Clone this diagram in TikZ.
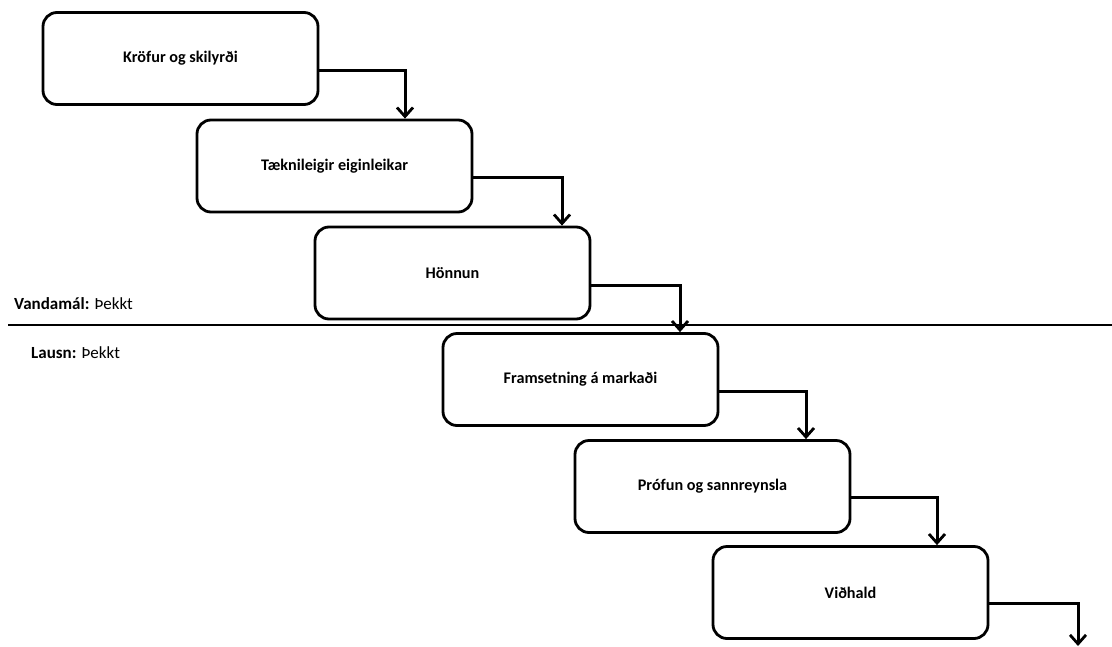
\documentclass[tikz,border=0pt]{standalone}
\usepackage{fontspec}
\setmainfont{Carlito}
\usetikzlibrary{arrows.meta}
\tikzset{
  stage/.style={draw=black, line width=2.8pt, rounded corners=14pt, minimum width=275pt, minimum height=92pt, inner sep=0pt, font=\fontsize{16.2}{18}\selectfont\bfseries},
  flow/.style={line width=3pt, -{Straight Barb[length=9pt,width=16pt,line width=2.8pt]}},
  sep/.style={line width=2.8pt},
  lbl/.style={anchor=west, inner sep=0pt, font=\fontsize{17}{19}\selectfont}
}
\begin{document}
\begin{tikzpicture}[x=1pt,y=-1pt]
\useasboundingbox (0,0) rectangle (1112,646);
\node[stage] (b1) at (180.5,58.5) {Kröfur og skilyrði};
\node[stage] (b2) at (334.5,166) {Tæknileigir eiginleikar};
\node[stage] (b3) at (452.5,273) {Hönnun};
\node[stage] (b4) at (580.5,379.5) {Framsetning á markaði};
\node[stage] (b5) at (712.5,486.5) {Prófun og sannreynsla};
\node[stage] (b6) at (850.5,592.5) {Viðhald};
\coordinate (lineL) at (8,325);
\coordinate (lineR) at (1112,325);
\coordinate (endpt) at (1078,646);
\draw[sep] (lineL) -- (lineR);
\node[lbl] (vand) at (14,304) {\textbf{Vandamál:} Þekkt};
\node[lbl] (lausn) at (31,353) {\textbf{Lausn:} Þekkt};
\draw[flow] ([yshift=-11.5pt]b1.east) -| (b2.north -| 405,0);
\draw[flow] ([yshift=-11pt]b2.east) -| (b3.north -| 562,0);
\draw[flow] ([yshift=-12pt]b3.east) -| (b4.north -| 680,0);
\draw[flow] ([yshift=-11.5pt]b4.east) -| (b5.north -| 806,0);
\draw[flow] ([yshift=-10.5pt]b5.east) -| (b6.north -| 937,0);
\draw[flow] ([yshift=-10.5pt]b6.east) -| (endpt);
\end{tikzpicture}
\end{document}
